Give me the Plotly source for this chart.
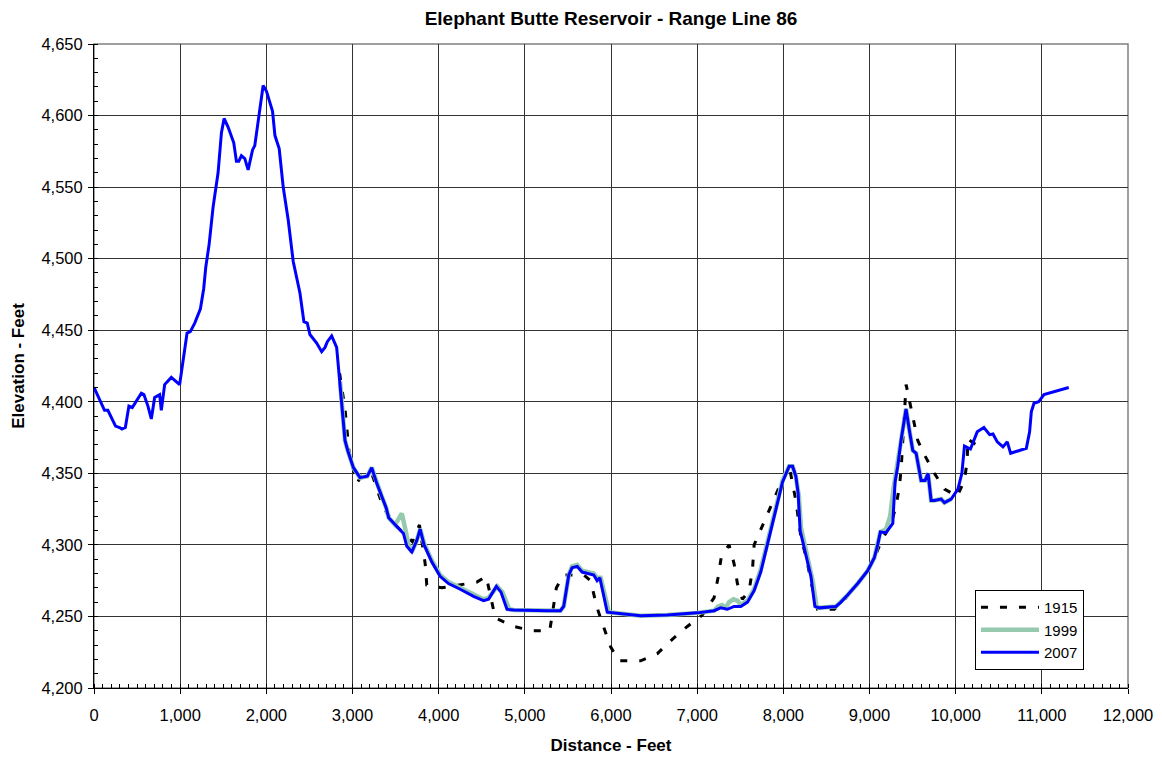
import plotly.graph_objects as go

# ---------------- data ----------------
x2007 = [0, 122, 161, 250, 297, 324, 364, 405, 444, 490, 549, 579, 626, 665, 704, 762, 781, 820, 897, 994,
         1033, 1080, 1118, 1169, 1235, 1273, 1297, 1336, 1382, 1440, 1479, 1510, 1556, 1622, 1653, 1680, 1711,
         1750, 1789, 1840, 1866, 1905, 1963, 2002, 2072, 2100, 2149, 2196, 2254, 2312, 2390, 2436, 2475, 2506,
         2584, 2642, 2681, 2708, 2758, 2816, 2855, 2886, 2913, 2944, 3010, 3087, 3172, 3223, 3281, 3339, 3390,
         3420, 3494, 3591, 3630, 3688, 3746, 3785, 3831, 3921, 4017, 4114, 4250, 4405, 4521, 4579, 4669, 4723,
         4793, 4870, 5258, 5413, 5451, 5510, 5548, 5607, 5665, 5800, 5839, 5870, 5917, 5956, 6343, 6653, 7002,
         7196, 7273, 7351, 7428, 7506, 7584, 7661, 7738, 7816, 7893, 7991, 8068, 8107, 8145, 8172, 8195, 8262,
         8320, 8366, 8417, 8611, 8669, 8746, 8863, 8979, 9056, 9095, 9126, 9192, 9270, 9297, 9328, 9366, 9424,
         9463, 9502, 9541, 9599, 9645, 9680, 9715, 9754, 9831, 9870, 9948, 10026, 10072, 10102, 10172, 10250,
         10328, 10394, 10433, 10483, 10549, 10599, 10638, 10820, 10858, 10878, 10909, 10963, 11025, 11312]
y2007 = [4410, 4394, 4394, 4383, 4382, 4381, 4382, 4397, 4396, 4400, 4406, 4405, 4397, 4388, 4403, 4405, 4394,
         4412, 4417, 4412, 4427, 4448, 4449, 4455, 4465, 4479, 4494, 4510, 4536, 4560, 4588, 4598, 4592, 4581,
         4568, 4568, 4572, 4570, 4562, 4576, 4579, 4597, 4621, 4617, 4603, 4586, 4577, 4550, 4527, 4498, 4476,
         4456, 4455, 4447, 4441, 4435, 4438, 4442, 4446, 4438, 4414, 4392, 4373, 4366, 4354, 4347, 4348, 4354,
         4343, 4334, 4326, 4319, 4314, 4308, 4299, 4295, 4303, 4311, 4300, 4288, 4278, 4273, 4269, 4264, 4261,
         4262, 4271, 4267, 4255, 4254.5, 4254, 4254, 4257, 4279, 4284, 4285, 4281, 4279, 4275, 4277, 4264, 4253,
         4250.5, 4251, 4252.5, 4254, 4256, 4255, 4257, 4257, 4260, 4268, 4281, 4300, 4320, 4344, 4355, 4355,
         4348, 4336, 4310, 4294, 4278, 4257, 4256, 4257, 4260, 4265, 4273, 4282, 4291, 4300, 4309, 4308.5, 4315,
         4344, 4355, 4373, 4395, 4380, 4366, 4364, 4345, 4345, 4350, 4331, 4331, 4332, 4329.5, 4332, 4339, 4350,
         4369, 4367, 4379, 4382, 4377, 4377.5, 4372, 4368.5, 4372, 4364, 4367.5, 4379, 4393, 4399, 4400, 4405,
         4410]

x1999 = [2855, 2886, 2913, 2944, 3010, 3087, 3172, 3223, 3281, 3339, 3390, 3420, 3494, 3530, 3572, 3610, 3650,
         3688, 3746, 3785, 3831, 3921, 4017, 4114, 4250, 4405, 4521, 4579, 4680, 4740, 4820, 4870, 5258, 5413,
         5451, 5510, 5548, 5607, 5665, 5800, 5839, 5880, 5940, 5975, 6343, 6653, 7002, 7196, 7242, 7290, 7330,
         7370, 7420, 7467, 7506, 7584, 7661, 7738, 7816, 7893, 7991, 8068, 8107, 8145, 8180, 8205, 8270, 8340,
         8385, 8417, 8611, 8669, 8746, 8863, 8979, 9056, 9095, 9126, 9192, 9240, 9280, 9300, 9328, 9366, 9424,
         9463, 9502, 9541, 9599, 9645, 9680, 9715, 9754, 9831, 9870, 9948]
y1999 = [4414, 4392, 4373, 4366, 4354, 4347, 4348, 4354, 4343, 4334, 4326, 4319, 4314, 4318, 4322, 4312, 4300,
         4295, 4303, 4311, 4301, 4289, 4279, 4274, 4270, 4265, 4262, 4263, 4271, 4267, 4255, 4254.5, 4254, 4254,
         4257, 4279, 4285, 4286, 4282, 4280, 4277, 4277, 4262, 4253, 4250.5, 4251, 4252.5, 4254, 4257, 4258,
         4256, 4260, 4262, 4261, 4258, 4261, 4269, 4283, 4302, 4322, 4345, 4355, 4355, 4348, 4334, 4312, 4293,
         4275, 4257, 4256, 4257, 4260, 4265, 4273, 4282, 4291, 4300, 4309, 4311, 4320, 4340, 4348, 4355, 4373,
         4395, 4380, 4366, 4364, 4345, 4345, 4350, 4331, 4331, 4332, 4329.5, 4332]

x1915 = [2850, 2913, 2960, 3050, 3100, 3223, 3358, 3494, 3700, 3777, 3843, 3862, 4037, 4444, 4552, 4657, 4870,
         5091, 5289, 5366, 5451, 5684, 5762, 5839, 5924, 5994, 6091, 6343, 6537, 6711, 6886, 7060, 7196, 7242,
         7281, 7370, 7428, 7467, 7525, 7603, 7642, 7661, 7971, 8068, 8145, 8165, 8205, 8270, 8330, 8397, 8591,
         8700, 8863, 8979, 9056, 9134, 9250, 9308, 9347, 9366, 9425, 9464, 9521, 9560, 9637, 9753, 9870, 10018,
         10102, 10134, 10141, 10238]
y1915 = [4420, 4395, 4365, 4343, 4348, 4350, 4326, 4314, 4302, 4314, 4287, 4272, 4270, 4274, 4278, 4249, 4243,
         4240, 4240, 4270, 4279, 4279, 4275, 4256, 4241, 4229, 4219, 4219, 4224, 4234, 4243, 4251, 4263, 4277,
         4292, 4300, 4287, 4273, 4262, 4268, 4283, 4300, 4343, 4355, 4331, 4322, 4305, 4290, 4272, 4255, 4255,
         4261, 4273, 4282, 4291, 4302, 4315, 4327, 4341, 4352, 4412, 4401, 4385, 4373, 4363, 4350, 4339, 4334,
         4345, 4359, 4374, 4370]

series_names = ["1915", "1999", "2007"]
x_ticks = list(range(0, 12001, 1000))
y_ticks = list(range(4200, 4651, 50))

FONT = "Liberation Sans, Arial, sans-serif"
W, H = 1154, 751  # page body has an 8px margin

fig = go.Figure()
fig.add_trace(go.Scatter(x=x1915, y=y1915, mode="lines", name=series_names[0],
                         line=dict(color="black", width=3, dash="7px,12px")))
fig.add_trace(go.Scatter(x=x1999, y=y1999, mode="lines", name=series_names[1],
                         line=dict(color="rgb(150,202,175)", width=4.5)))
fig.add_trace(go.Scatter(x=x2007, y=y2007, mode="lines", name=series_names[2],
                         line=dict(color="#0000FF", width=3)))

fig.update_layout(
    width=W, height=H,
    margin=dict(l=86, r=34, t=36, b=71),
    paper_bgcolor="white", plot_bgcolor="white",
    font=dict(family=FONT, size=16.5, color="black"),
    title=dict(text="<b>Elephant Butte Reservoir - Range Line 86</b>",
               x=0.5, xref="paper", xanchor="center",
               y=1 - 4 / H, yref="container", yanchor="top", pad=dict(t=0, b=0),
               font=dict(family=FONT, size=19, color="black")),
    showlegend=True,
    legend=dict(x=0.852, y=0.152, xanchor="left", yanchor="top",
                bgcolor="white", bordercolor="black", borderwidth=1,
                font=dict(family=FONT, size=15), tracegroupgap=0,
                itemwidth=58),
)

fig.update_xaxes(
    range=[0, 12000], tickvals=x_ticks, tickformat=",d",
    showgrid=True, gridcolor="#333333", gridwidth=1,
    showline=True, linecolor="black", linewidth=1,
    ticks="outside", ticklen=5, tickcolor="black",
    minor=dict(dtick=100, ticks="inside", ticklen=4, tickcolor="black", showgrid=False),
    zeroline=False, ticklabelstandoff=7, automargin=False,
    title=dict(text="<b>Distance - Feet</b>", font=dict(family=FONT, size=17), standoff=16),
    tickfont=dict(family=FONT, size=16.5),
)
fig.update_yaxes(
    range=[4200, 4650], tickvals=y_ticks, tickformat=",d",
    showgrid=True, gridcolor="#333333", gridwidth=1,
    showline=True, linecolor="black", linewidth=1,
    ticks="outside", ticklen=5, tickcolor="black",
    minor=dict(dtick=10, ticks="inside", ticklen=4, tickcolor="black", showgrid=False),
    zeroline=False, ticklabelstandoff=2, automargin=False,
    title=dict(text="<b>Elevation - Feet</b>", font=dict(family=FONT, size=17), standoff=12),
    tickfont=dict(family=FONT, size=16.5),
)

fig.add_shape(type="rect", xref="paper", yref="paper", x0=0, y0=0, x1=1, y1=1,
              line=dict(color="#808080", width=1.5), layer="below")

fig.write_html("out.html")
